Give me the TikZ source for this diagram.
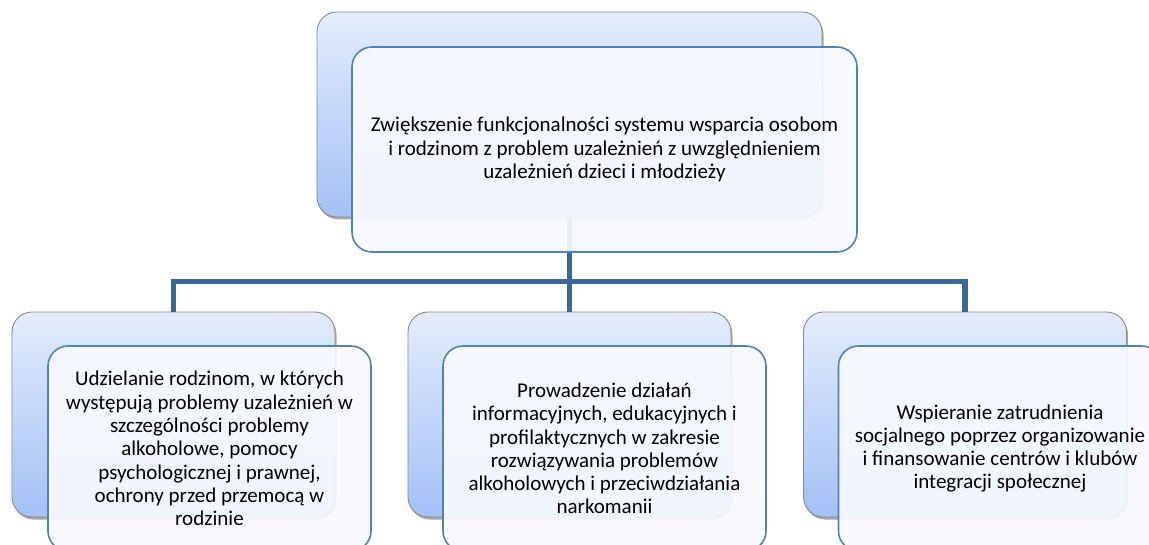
\documentclass[tikz,border=0pt]{standalone}
\usepackage{fontspec}
\setmainfont{Carlito}
\usetikzlibrary{shadows}
\definecolor{frontline}{HTML}{4F81BD}
\definecolor{conncol}{HTML}{3D6699}
\definecolor{backtop}{HTML}{E3ECFC}
\definecolor{backbot}{HTML}{A3C1F6}
\definecolor{frontfill}{HTML}{F7F9FE}
\definecolor{backline}{HTML}{8A8A8A}
\tikzset{
  backbox/.style={rectangle, rounded corners=20pt, draw=backline, line width=0.9pt,
    top color=backtop, bottom color=backbot, inner sep=0pt,
    drop shadow={shadow xshift=1.5pt, shadow yshift=-2.5pt, opacity=0.35, fill=black}},
  frontbox/.style={rectangle, rounded corners=20pt, draw=frontline, line width=1.6pt,
    fill=frontfill, fill opacity=0.93, text opacity=1, inner sep=0pt,
    align=center, font=\fontsize{21}{23.3}\selectfont},
  conn/.style={draw=conncol, line width=5.5pt, line join=miter},
  topsize/.style={minimum width=505pt, minimum height=205pt},
  botsize/.style={minimum width=323pt, minimum height=205pt}
}
\begin{document}
\begin{tikzpicture}[x=1pt,y=-1pt]
\useasboundingbox (0,0) rectangle (1149,545);
\clip (0,0) rectangle (1149,545);
\fill[white] (0,0) rectangle (1149,545);
% back boxes
\node[backbox, topsize] (tb) at (569.5,114.5) {};
\node[backbox, botsize] (lb) at (173.5,414.5) {};
\node[backbox, botsize] (mb) at (569.5,414.5) {};
\node[backbox, botsize] (rb) at (965,414.5) {};
% connectors
\coordinate (barc) at (0,281.5);
\draw[conn] (tb.south) -- (mb.north);
\draw[conn] (lb.north) -- (lb.north |- barc) -- (rb.north |- barc) -- (rb.north);
% front boxes
\node[frontbox, topsize] (tf) at (604.5,149.5)
  {Zwiększenie funkcjonalności systemu wsparcia osobom\\
   i rodzinom z problem uzależnień z uwzględnieniem\\
   uzależnień dzieci i młodzieży};
\node[frontbox, botsize] (lf) at (209.5,448.5)
  {Udzielanie rodzinom, w których\\
   występują problemy uzależnień w\\
   szczególności problemy\\
   alkoholowe, pomocy\\
   psychologicznej i prawnej,\\
   ochrony przed przemocą w\\
   rodzinie};
\node[frontbox, botsize] (mf) at (604.5,448.5)
  {Prowadzenie działań\\
   informacyjnych, edukacyjnych i\\
   profilaktycznych w zakresie\\
   rozwiązywania problemów\\
   alkoholowych i przeciwdziałania\\
   narkomanii};
\node[frontbox, botsize] (rf) at (1000,448.5)
  {Wspieranie zatrudnienia\\
   socjalnego poprzez organizowanie\\
   i finansowanie centrów i klubów\\
   integracji społecznej};
\end{tikzpicture}
\end{document}
